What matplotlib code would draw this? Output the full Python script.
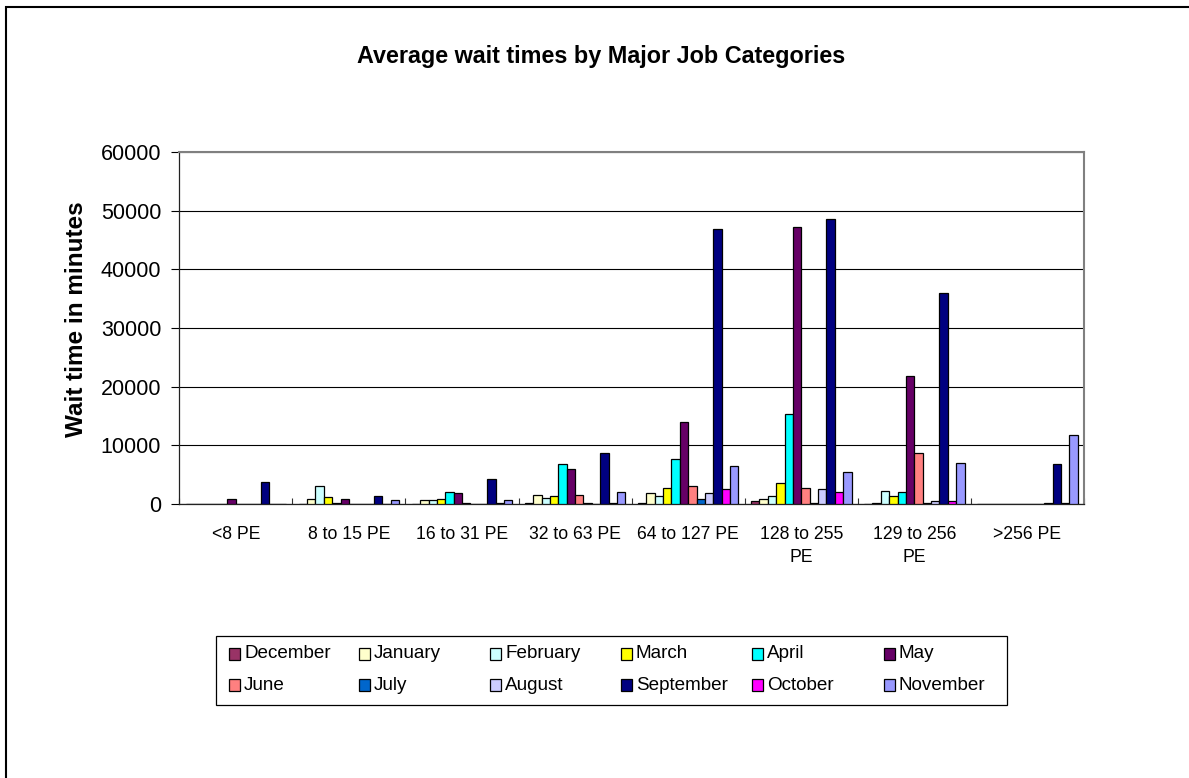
import numpy as np
import matplotlib
matplotlib.use("Agg")
import matplotlib.pyplot as plt
from matplotlib.patches import Rectangle

plt.rcParams['font.family'] = ['Liberation Sans', 'DejaVu Sans']

categories = ['<8 PE', '8 to 15 PE', '16 to 31 PE', '32 to 63 PE', '64 to 127 PE',
              '128 to 255\nPE', '129 to 256\nPE', '>256 PE']
months = ['December', 'January', 'February', 'March', 'April', 'May',
          'June', 'July', 'August', 'September', 'October', 'November']
colors = ['#993366', '#FFFFCC', '#CCFFFF', '#FFFF00', '#00FFFF', '#660066',
          '#FF8080', '#0066CC', '#CCCCFF', '#000080', '#FF00FF', '#9999FF']

# wait time in minutes, one list per month, one value per job category
december = [0, 0, 0, 200, 250, 500, 0, 0]
january = [0, 800, 600, 1600, 1900, 900, 100, 0]
february = [0, 3100, 600, 1100, 1400, 1300, 2300, 0]
march = [0, 1200, 800, 1300, 2800, 3600, 1400, 0]
april = [0, 100, 2100, 6800, 7600, 15400, 2000, 0]
may = [800, 800, 1900, 6000, 14000, 47200, 21800, 0]
june = [0, 0, 200, 1500, 3100, 2800, 8700, 0]
july = [0, 0, 0, 150, 900, 200, 100, 0]
august = [0, 0, 0, 0, 1900, 2600, 500, 100]
september = [3700, 1300, 4200, 8700, 46900, 48500, 36000, 6800]
october = [0, 0, 100, 150, 2600, 2000, 500, 100]
november = [0, 600, 600, 2100, 6500, 5500, 7000, 11800]

series = [december, january, february, march, april, may,
          june, july, august, september, october, november]

fig = plt.figure(figsize=(11.89, 7.78), dpi=100)
ax = fig.add_axes([179.3 / 1189, 1 - 504 / 778, 904.7 / 1189, 352 / 778])

x = np.arange(len(categories))
w = 1 / 13.5
for i, vals in enumerate(series):
    ax.bar(x + (i - 5.5) * w, vals, width=w, color=colors[i],
           edgecolor='black', linewidth=0.9, zorder=3)

ax.set_xlim(-0.5, len(categories) - 0.5)
ax.set_ylim(0, 60000)
ax.set_yticks(np.arange(0, 60001, 10000))
ax.yaxis.grid(True, color='black', linewidth=0.8, zorder=0)
ax.tick_params(axis='y', direction='out', length=5.5, width=0.8, pad=7.5,
               labelsize=15.5, color='black')

ax.set_xticks(x)
ax.set_xticklabels(categories, fontsize=12.7, linespacing=1.45)
ax.set_xticks(np.arange(-0.5, len(categories), 1), minor=True)
ax.tick_params(axis='x', which='major', length=0, pad=16)
ax.tick_params(axis='x', which='minor', direction='in', length=4.5, width=0.8,
               color='#333333')

for s in ['top', 'right']:
    ax.spines[s].set_color('#808080')
    ax.spines[s].set_linewidth(1.5)
for s in ['left', 'bottom']:
    ax.spines[s].set_color('#222222')
    ax.spines[s].set_linewidth(0.9)

ax.set_ylabel('Wait time in minutes', fontsize=17.5, fontweight='bold')
ax.yaxis.label.set_va('center')
ax.yaxis.set_label_coords(-0.1134, 0.526)

fig.text(601.5 / 1189, 1 - 57 / 778, 'Average wait times by Major Job Categories',
         ha='center', va='center', fontsize=16.8, fontweight='bold')

# legend box, laid out like the spreadsheet one: 2 rows x 6 equal columns
fig.add_artist(Rectangle((216 / 1189, 1 - 705 / 778), 791 / 1189, 69 / 778,
                         transform=fig.transFigure, fill=False,
                         edgecolor='black', linewidth=0.9))
col_x = [229, 359, 490, 621, 752, 884]
row_y = [654, 685]
for i, name in enumerate(months):
    r, c = divmod(i, 6)
    px, py = col_x[c], row_y[r]
    fig.add_artist(Rectangle((px / 1189, 1 - (py + 6) / 778), 11 / 1189, 12 / 778,
                             transform=fig.transFigure, facecolor=colors[i],
                             edgecolor='black', linewidth=0.9))
    fig.text((px + 15) / 1189, 1 - py / 778, name, ha='left', va='center',
             fontsize=13.6)

# outer chart border (only left and top edges fall inside the picture)
fig.add_artist(Rectangle((6 / 1189, -0.1), 1.2, 1.1 - 7.5 / 778,
                         transform=fig.transFigure, fill=False,
                         edgecolor='black', linewidth=1.5))

fig.savefig('out.png', dpi=100)
